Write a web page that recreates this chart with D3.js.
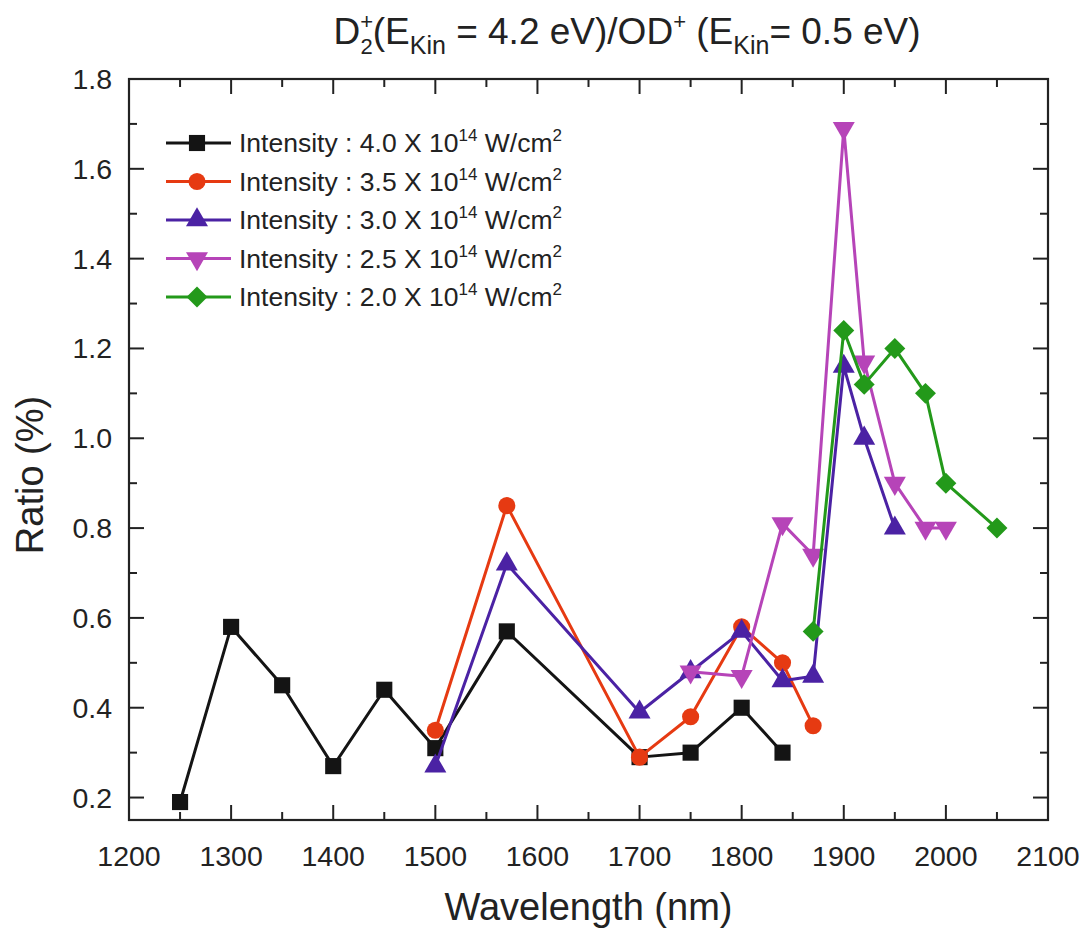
<!DOCTYPE html>
<html>
<head>
<meta charset="utf-8">
<script src="https://cdn.jsdelivr.net/npm/d3@7"></script>
<style>
  body { margin: 0; background: #fff; }
  text { font-family: "Liberation Sans", Arial, sans-serif; fill: #222; }
</style>
</head>
<body>
<svg id="chart" width="1086" height="928"></svg>
<script>
// ---- data ----
const wl40 = [1250, 1300, 1350, 1400, 1450, 1500, 1570, 1700, 1750, 1800, 1840];
const r40  = [0.19, 0.58, 0.45, 0.27, 0.44, 0.31, 0.57, 0.29, 0.30, 0.40, 0.30];
const wl35 = [1500, 1570, 1700, 1750, 1800, 1840, 1870];
const r35  = [0.35, 0.85, 0.29, 0.38, 0.58, 0.50, 0.36];
const wl30 = [1500, 1570, 1700, 1750, 1800, 1840, 1870, 1900, 1920, 1950];
const r30  = [0.27, 0.72, 0.39, 0.48, 0.57, 0.46, 0.47, 1.16, 1.00, 0.80];
const wl25 = [1750, 1800, 1840, 1870, 1900, 1920, 1950, 1980, 2000];
const r25  = [0.48, 0.47, 0.81, 0.74, 1.69, 1.17, 0.90, 0.80, 0.80];
const wl20 = [1870, 1900, 1920, 1950, 1980, 2000, 2050];
const r20  = [0.57, 1.24, 1.12, 1.20, 1.10, 0.90, 0.80];
const intensities = ["4.0", "3.5", "3.0", "2.5", "2.0"];
const seriesColors = ["#141414", "#e63a12", "#4b22a4", "#b644b8", "#23991a"];
const markerKinds = ["square", "circle", "triangle", "triangleDown", "diamond"];
const xTicks = [1200, 1300, 1400, 1500, 1600, 1700, 1800, 1900, 2000, 2100];
const yTicks = [0.2, 0.4, 0.6, 0.8, 1.0, 1.2, 1.4, 1.6, 1.8];

const series = [
  { wl: wl40, r: r40 }, { wl: wl35, r: r35 }, { wl: wl30, r: r30 },
  { wl: wl25, r: r25 }, { wl: wl20, r: r20 }
].map((s, i) => ({
  points: s.wl.map((w, j) => ({ x: w, y: s.r[j] })),
  color: seriesColors[i], kind: markerKinds[i], label: intensities[i]
}));

// ---- layout ----
const L = 129, R = 1048, T = 79, B = 820;
const svg = d3.select("#chart");
const x = d3.scaleLinear().domain([1200, 2100]).range([L, R]);
const y = d3.scaleLinear().domain([0.15, 1.8]).range([B, T]);

function symbolPath(kind) {
  switch (kind) {
    case "square": return d3.symbol(d3.symbolSquare, 260)();
    case "circle": return d3.symbol(d3.symbolCircle, 230)();
    case "triangle": return d3.symbol(d3.symbolTriangle, 210)();
    case "triangleDown": return d3.symbol(d3.symbolTriangle, 210)();
    case "diamond": return d3.symbol(d3.symbolSquare, 220)();
  }
}
function symbolRotate(kind) {
  if (kind === "triangleDown") return " rotate(180)";
  if (kind === "diamond") return " rotate(45)";
  return "";
}

// ---- axes ----
const axG = svg.append("g");
const xMinor = d3.range(1250, 2100, 100);
const yMinor = d3.range(0.3, 1.8, 0.2);
function tickLines(g, vals, len, side) {
  vals.forEach(v => {
    if (side === "bottom") g.append("line").attr("x1", x(v)).attr("x2", x(v)).attr("y1", B).attr("y2", B - len);
    if (side === "top") g.append("line").attr("x1", x(v)).attr("x2", x(v)).attr("y1", T).attr("y2", T + len);
    if (side === "left") g.append("line").attr("x1", L).attr("x2", L + len).attr("y1", y(v)).attr("y2", y(v));
    if (side === "right") g.append("line").attr("x1", R).attr("x2", R - len).attr("y1", y(v)).attr("y2", y(v));
  });
}
const tg = axG.append("g").attr("stroke", "#222").attr("stroke-width", 2);
tickLines(tg, xTicks, 15, "bottom");
tickLines(tg, xMinor, 8, "bottom");
tickLines(tg, xTicks, 15, "top");
tickLines(tg, xMinor, 8, "top");
tickLines(tg, yTicks, 15, "left");
tickLines(tg, yMinor, 8, "left");
tickLines(tg, yTicks, 15, "right");
tickLines(tg, yMinor, 8, "right");
axG.append("rect").attr("x", L).attr("y", T).attr("width", R - L).attr("height", B - T)
  .attr("fill", "none").attr("stroke", "#222").attr("stroke-width", 2.2);

// tick labels
axG.selectAll(".xl").data(xTicks).join("text")
  .attr("x", d => x(d)).attr("y", 866).attr("text-anchor", "middle")
  .attr("font-size", 28.5).text(d => d);
axG.selectAll(".yl").data(yTicks).join("text")
  .attr("x", 112).attr("y", d => y(d) + 10).attr("text-anchor", "end")
  .attr("font-size", 28.5).text(d => d3.format(".1f")(d));

// axis titles
svg.append("text").attr("x", (L + R) / 2).attr("y", 920).attr("text-anchor", "middle")
  .attr("font-size", 38).text("Wavelength (nm)");
svg.append("text").attr("transform", "translate(43,475) rotate(-90)").attr("text-anchor", "middle")
  .attr("font-size", 38).text("Ratio (%)");

// title
const title = svg.append("text").attr("x", 627).attr("y", 44).attr("text-anchor", "middle").attr("font-size", 37);
title.append("tspan").text("D");
title.append("tspan").attr("font-size", 22).attr("dy", -15).text("+");
title.append("tspan").attr("font-size", 22).attr("dx", -12.5).attr("dy", 25).text("2");
title.append("tspan").attr("dy", -10).text("(E");
title.append("tspan").attr("font-size", 25).attr("dy", 10).text("Kin");
title.append("tspan").attr("dy", -10).text(" = 4.2 eV)/OD");
title.append("tspan").attr("font-size", 22).attr("dy", -15).text("+");
title.append("tspan").attr("dy", 15).text(" (E");
title.append("tspan").attr("font-size", 25).attr("dy", 10).text("Kin");
title.append("tspan").attr("dy", -10).text("= 0.5 eV)");

// ---- series ----
const line = d3.line().x(d => x(d.x)).y(d => y(d.y));
const plotG = svg.append("g");
series.forEach(s => {
  const g = plotG.append("g");
  g.append("path").datum(s.points).attr("d", line)
    .attr("fill", "none").attr("stroke", s.color).attr("stroke-width", 3).attr("stroke-linejoin", "round");
  g.selectAll("path.m").data(s.points).join("path").attr("class", "m")
    .attr("d", symbolPath(s.kind))
    .attr("transform", d => `translate(${x(d.x)},${y(d.y)})` + symbolRotate(s.kind))
    .attr("fill", s.color);
});

// ---- legend ----
const leg = svg.append("g");
series.forEach((s, i) => {
  const yy = 143 + i * 38.5;
  leg.append("line").attr("x1", 166).attr("x2", 231).attr("y1", yy).attr("y2", yy)
    .attr("stroke", s.color).attr("stroke-width", 3);
  leg.append("path").attr("d", symbolPath(s.kind))
    .attr("transform", `translate(197,${yy})` + symbolRotate(s.kind)).attr("fill", s.color);
  const t = leg.append("text").attr("x", 239).attr("y", yy + 9).attr("font-size", 26.5);
  t.append("tspan").text(`Intensity : ${s.label} X 10`);
  t.append("tspan").attr("font-size", 17).attr("dy", -11).text("14");
  t.append("tspan").attr("dy", 11).text(" W/cm");
  t.append("tspan").attr("font-size", 17).attr("dy", -11).text("2");
});
</script>
</body>
</html>
